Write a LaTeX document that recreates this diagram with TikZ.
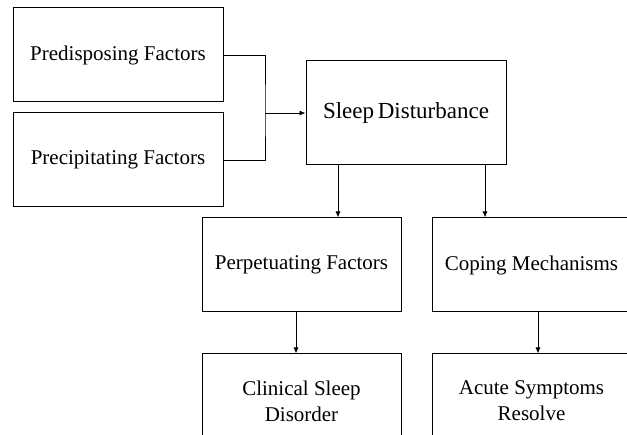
\documentclass[tikz,border=0pt]{standalone}
\usepackage{fontspec}
\setmainfont{Liberation Serif}
\usetikzlibrary{arrows.meta}
\begin{document}
\begin{tikzpicture}[
  x=1pt,y=-1pt,
  box/.style={rectangle,draw,line width=1pt,minimum width=199pt,minimum height=94pt,inner sep=0pt,align=center,font=\fontsize{21}{26}\selectfont},
  arrow/.style={-{Latex[length=6pt,width=5pt]},line width=0.9pt}
]
\useasboundingbox (0,0) rectangle (627,435);
\clip (0,0) rectangle (627,435);
\fill[white] (0,0) rectangle (627,435);

\node[box,minimum width=210pt] (pre) at (118,55) {Predisposing Factors};
\node[box,minimum width=210pt] (prec) at (118,160) {Precipitating Factors};
\node[box,minimum width=200pt,minimum height=104pt,font=\fontsize{23}{28}\selectfont] (sleep) at (406,113) {Sleep\kern-2pt\ Disturbance};
\node[box] (perp) at (301.5,265) {Perpetuating Factors};
\node[box] (cope) at (531.5,265) {Coping Mechanisms};
\node[box] (clin) at (301.5,401) {Clinical Sleep\\Disorder};
\node[box] (acute) at (531.5,401) {Acute Symptoms\\Resolve};

\coordinate (join) at (265,113);
\draw[line width=0.9pt] (pre.east) -| (join) |- (prec.east);
\draw[arrow] (join) -- (sleep.west);
\draw[arrow] ([xshift=-68pt]sleep.south) -- ([xshift=-68pt]sleep.south |- perp.north);
\draw[arrow] ([xshift=79pt]sleep.south) -- ([xshift=79pt]sleep.south |- cope.north);
\draw[arrow] ([xshift=-5.5pt]perp.south) -- ([xshift=-5.5pt]perp.south |- clin.north);
\draw[arrow] ([xshift=6.5pt]cope.south) -- ([xshift=6.5pt]cope.south |- acute.north);
\end{tikzpicture}
\end{document}
